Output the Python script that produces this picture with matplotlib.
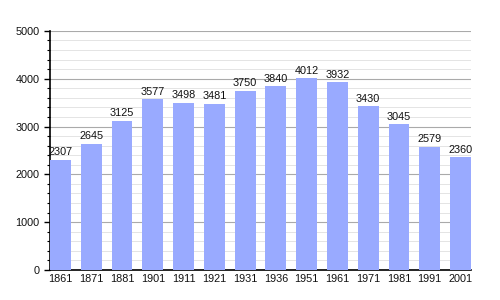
import matplotlib
matplotlib.use("Agg")
import matplotlib.pyplot as plt
from matplotlib.ticker import MultipleLocator

years = ["1861", "1871", "1881", "1901", "1911", "1921", "1931",
         "1936", "1951", "1961", "1971", "1981", "1991", "2001"]
population = [2307, 2645, 3125, 3577, 3498, 3481, 3750,
              3840, 4012, 3932, 3430, 3045, 2579, 2360]

plt.rcParams["font.family"] = ["Liberation Sans", "DejaVu Sans"]

fig = plt.figure(figsize=(5, 3), dpi=100)
ax = fig.add_axes([0.1, 0.1, 0.842, 0.797])

width = 0.68
x = range(len(years))
ax.bar(x, population, width=width, color="#99aaff", zorder=3)
for xi, v in zip(x, population):
    ax.text(xi, v + 50, str(v), ha="center", va="bottom", fontsize=7.8,
            color="#111111", zorder=4)

ax.set_xlim(-width / 2, len(years) - 1 + width / 2)
ax.set_ylim(0, 5000)
ax.set_xticks(list(x))
ax.set_xticklabels(years, fontsize=7.8, color="#111111")
ax.yaxis.set_major_locator(MultipleLocator(1000))
ax.yaxis.set_minor_locator(MultipleLocator(200))
ax.tick_params(axis="y", which="major", labelsize=7.8, labelcolor="#111111",
               length=4, width=1)
ax.tick_params(axis="y", which="minor", length=2.5, width=0.8)
ax.tick_params(axis="x", length=0, pad=3)

ax.grid(axis="y", which="major", color="#aaaaaa", linewidth=0.8, zorder=1)
ax.grid(axis="y", which="minor", color="#e4e4e4", linewidth=0.7, zorder=1)

for side in ("top", "right"):
    ax.spines[side].set_visible(False)
ax.spines["left"].set_linewidth(1.2)
ax.spines["bottom"].set_linewidth(1.2)

fig.savefig("out.png", dpi=100)
